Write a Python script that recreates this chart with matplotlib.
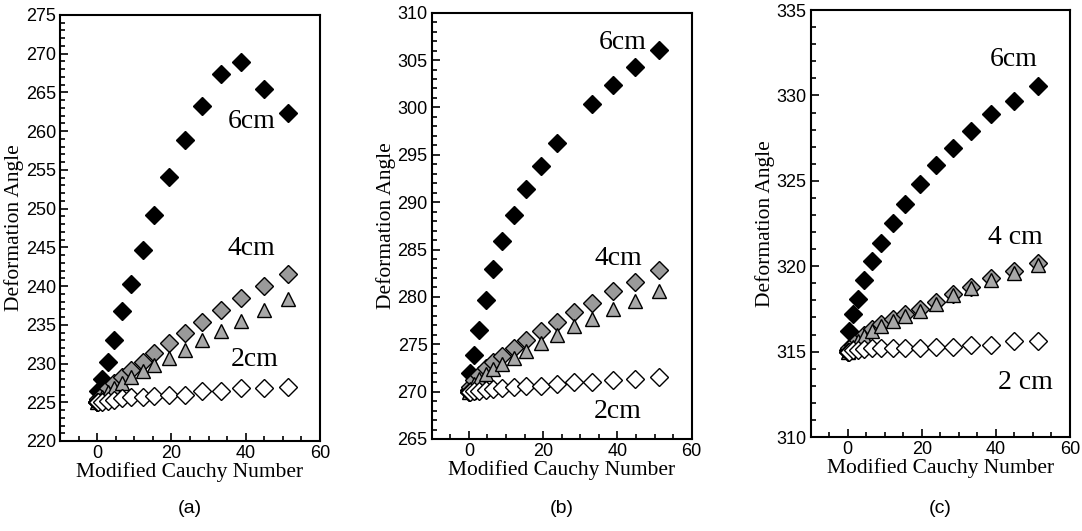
import matplotlib.pyplot as plt
from matplotlib.ticker import MultipleLocator
import numpy as np

# modified Cauchy number (same for every series)
cauchy = [0, 0.3, 1.4, 2.8, 4.5, 6.6, 9.0, 12.2, 15.4, 19.4, 23.7, 28.3, 33.2, 38.8, 44.8, 51.3]

# (a)
a_6cm = [225.0, 226.4, 228.0, 230.2, 233.1, 236.8, 240.3, 244.6, 249.2, 254.1, 258.9, 263.3, 267.4, 268.9, 265.4, 262.3]
a_4cm_d = [225.0, 225.4, 226.0, 226.8, 227.5, 228.3, 229.2, 230.2, 231.3, 232.6, 233.9, 235.3, 236.9, 238.5, 240.0, 241.5]
a_4cm_t = [225.0, 225.3, 225.7, 226.3, 226.9, 227.5, 228.2, 229.0, 229.8, 230.7, 231.8, 233.0, 234.2, 235.5, 236.9, 238.3]
a_2cm = [225.0, 225.0, 225.0, 225.1, 225.3, 225.5, 225.7, 225.7, 225.8, 226.0, 226.0, 226.5, 226.5, 226.8, 226.8, 227.0]

# (b)
b_6cm = [270.2, 272.0, 273.9, 276.5, 279.7, 282.9, 285.9, 288.6, 291.4, 293.8, 296.2, np.nan, 300.4, 302.4, 304.3, 306.1]
b_4cm_d = [270.0, 270.5, 271.2, 271.8, 272.5, 273.1, 273.8, 274.6, 275.5, 276.4, 277.4, 278.4, 279.4, 280.6, 281.6, 282.8]
b_4cm_t = [270.0, 270.3, 270.8, 271.3, 271.9, 272.4, 272.9, 273.6, 274.3, 275.1, 276.0, 276.9, 277.7, 278.7, 279.6, 280.6]
b_2cm = [270.0, 270.0, 270.1, 270.1, 270.2, 270.3, 270.4, 270.5, 270.6, 270.6, 270.8, 271.0, 271.0, 271.2, 271.3, 271.5]

# (c)
c_6cm = [315.1, 316.2, 317.2, 318.1, 319.2, 320.3, 321.35, 322.55, 323.65, 324.8, 325.9, 326.9, 327.9, 328.9, 329.7, 330.55]
c_4cm_d = [315.0, 315.2, 315.4, 315.7, 316.0, 316.3, 316.6, 316.9, 317.2, 317.5, 317.9, 318.4, 318.8, 319.3, 319.7, 320.2]
c_4cm_t = [315.0, 315.1, 315.3, 315.6, 315.9, 316.2, 316.5, 316.8, 317.1, 317.4, 317.8, 318.3, 318.7, 319.2, 319.6, 320.1]
c_2cm = [315.0, 315.0, 315.1, 315.1, 315.15, 315.2, 315.2, 315.2, 315.2, 315.2, 315.25, 315.25, 315.4, 315.4, 315.6, 315.6]

panels = [
    ('(a)', a_6cm, a_4cm_d, a_4cm_t, a_2cm, (220, 275), ['6cm', '4cm', '2cm'],
     [(41.5, 261.3), (41.6, 244.9), (42.5, 230.5)]),
    ('(b)', b_6cm, b_4cm_d, b_4cm_t, b_2cm, (265, 310), ['6cm', '4cm', '2cm'],
     [(41.3, 306.9), (40.3, 284.1), (40.0, 267.9)]),
    ('(c)', c_6cm, c_4cm_d, c_4cm_t, c_2cm, (310, 335), ['6cm', '4 cm', '2 cm'],
     [(44.7, 332.1), (45.2, 321.7), (47.9, 313.2)]),
]
rects = [[0.0555, 0.1695, 0.2403, 0.8023],
         [0.399, 0.1733, 0.2403, 0.8028],
         [0.7493, 0.177, 0.2396, 0.804]]

serif = ['Liberation Serif', 'DejaVu Serif']
sans = ['Liberation Sans', 'DejaVu Sans']

fig = plt.figure(figsize=(10.82, 5.31), dpi=100)

for rect, (tag, y6, y4d, y4t, y2, ylim, names, spots) in zip(rects, panels):
    ax = fig.add_axes(rect)
    ax.plot(cauchy, y6, 'D', ms=9, mfc='black', mec='black', ls='none')
    ax.plot(cauchy, y4d, 'D', ms=9, mfc='#9a9a9a', mec='black', mew=1.0, ls='none')
    ax.plot(cauchy, y4t, '^', ms=9.5, mfc='#a8a8a8', mec='black', mew=1.0, ls='none')
    ax.plot(cauchy, y2, 'D', ms=9, mfc='white', mec='black', mew=1.0, ls='none')

    for name, (tx, ty) in zip(names, spots):
        ax.text(tx, ty, name, ha='center', va='center', fontsize=20, family=serif)

    ax.set_xlim(-10, 60)
    ax.set_ylim(*ylim)
    ax.xaxis.set_major_locator(MultipleLocator(20))
    ax.xaxis.set_minor_locator(MultipleLocator(5))
    ax.yaxis.set_major_locator(MultipleLocator(5))
    ax.yaxis.set_minor_locator(MultipleLocator(1))
    ax.tick_params(which='both', direction='in', top=False, right=False, width=1.2)
    ax.tick_params(which='major', length=6, labelsize=13, pad=3)
    ax.tick_params(which='minor', length=3.5)
    for lab in ax.get_xticklabels() + ax.get_yticklabels():
        lab.set_family(sans)
    for sp in ax.spines.values():
        sp.set_linewidth(1.5)

    ax.set_xlabel('Modified Cauchy Number', fontsize=15.5, family=serif, labelpad=0)
    ax.set_ylabel('Deformation Angle', fontsize=15.5, family=serif, labelpad=1)

    cx = rect[0] + rect[2] / 2
    fig.text(cx, 0.043, tag, ha='center', va='center', fontsize=14, family=sans)

plt.savefig('out.png', dpi=100)
